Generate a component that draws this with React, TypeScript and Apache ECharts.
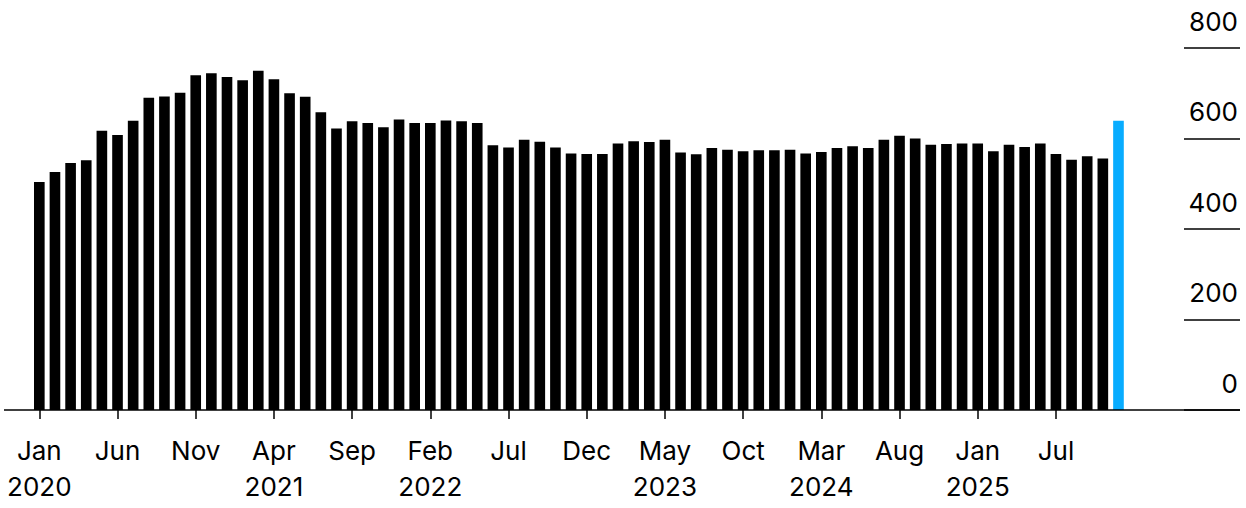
import React, { useEffect, useRef } from "react";
import * as echarts from "echarts";

// Monthly values, Jan 2020 onward (70 bars); last bar highlighted
const values: number[] = [
  504, 526, 546, 552, 617, 608, 639, 690, 693, 701,
  740, 744, 736, 729, 750, 731, 700, 692, 658, 622,
  638, 634, 625, 642, 634, 634, 640, 638, 634, 585,
  580, 597, 593, 580, 567, 566, 566, 589, 594, 592,
  597, 569, 565, 579, 575, 572, 574, 574, 575, 567,
  570, 579, 583, 579, 597, 606, 600, 586, 588, 589,
  589, 572, 586, 581, 589, 566, 553, 561, 556, 639,
];

const monthNames = ["Jan", "Feb", "Mar", "Apr", "May", "Jun", "Jul", "Aug", "Sep", "Oct", "Nov", "Dec"];
const categories: string[] = values.map((_, i) => `${monthNames[i % 12]} ${2020 + Math.floor(i / 12)}`);

// Tick labels shown every 5th bar, as in the reference
const tickLabels: string[] = [
  "Jan\n2020", "Jun", "Nov", "Apr\n2021", "Sep", "Feb\n2022", "Jul",
  "Dec", "May\n2023", "Oct", "Mar\n2024", "Aug", "Jan\n2025", "Jul",
];

const yTicks = { min: 0, max: 800, interval: 200 };

const BAR_COLOR = "#000000";
const HIGHLIGHT_COLOR = "#08acff";
const FONT = "Inter, 'Liberation Sans', sans-serif";

export default function App() {
  const ref = useRef<HTMLDivElement>(null);

  useEffect(() => {
    if (!ref.current) return;
    const chart = echarts.init(ref.current, undefined, { renderer: "svg" });
    const last = values.length - 1;
    chart.setOption({
      animation: false,
      backgroundColor: "#ffffff",
      textStyle: { fontFamily: FONT },
      grid: [
        { left: 31.5, right: 119.7, top: 48, bottom: 98 },
        { left: 1184, right: 6, top: 48, bottom: 98 },
      ],
      xAxis: [
        {
          type: "category",
          gridIndex: 0,
          data: categories,
          boundaryGap: true,
          axisLine: { show: false },
          axisTick: {
            show: true,
            interval: 4,
            alignWithLabel: true,
            length: 9,
            lineStyle: { color: "#000", width: 1.5 },
          },
          axisLabel: {
            interval: 4,
            margin: 22,
            fontFamily: FONT,
            fontSize: 26,
            lineHeight: 36,
            color: "#000",
            formatter: (_v: string, idx: number) =>
              idx % 5 === 0 ? tickLabels[idx / 5] ?? "" : "",
          },
          splitLine: { show: false },
        },
        {
          type: "value",
          gridIndex: 1,
          show: false,
        },
      ],
      yAxis: [
        {
          type: "value",
          gridIndex: 0,
          min: yTicks.min,
          max: yTicks.max,
          interval: yTicks.interval,
          show: false,
        },
        {
          type: "value",
          gridIndex: 1,
          position: "right",
          min: yTicks.min,
          max: yTicks.max,
          interval: yTicks.interval,
          axisLine: { show: false },
          axisTick: { show: false },
          splitLine: { show: true, lineStyle: { color: "#000", width: 1.5 } },
          axisLabel: {
            inside: true,
            margin: 2,
            align: "right",
            verticalAlign: "bottom",
            padding: [0, 0, 14, 0],
            fontFamily: FONT,
            fontSize: 26,
            color: "#000",
          },
        },
      ],
      graphic: [
        {
          type: "line",
          shape: { x1: 4, y1: 410, x2: 1240, y2: 410 },
          style: { stroke: "#000", lineWidth: 1.5 },
          z: 10,
        },
      ],
      series: [
        {
          type: "bar",
          xAxisIndex: 0,
          yAxisIndex: 0,
          barWidth: "68%",
          data: values.map((v, i) =>
            i === last
              ? { value: v, itemStyle: { color: HIGHLIGHT_COLOR } }
              : { value: v, itemStyle: { color: BAR_COLOR } }
          ),
        },
      ],
    });
    return () => chart.dispose();
  }, []);

  return (
    <div
      ref={ref}
      style={{ position: "fixed", left: 0, top: 0, width: 1246, height: 508 }}
    />
  );
}
